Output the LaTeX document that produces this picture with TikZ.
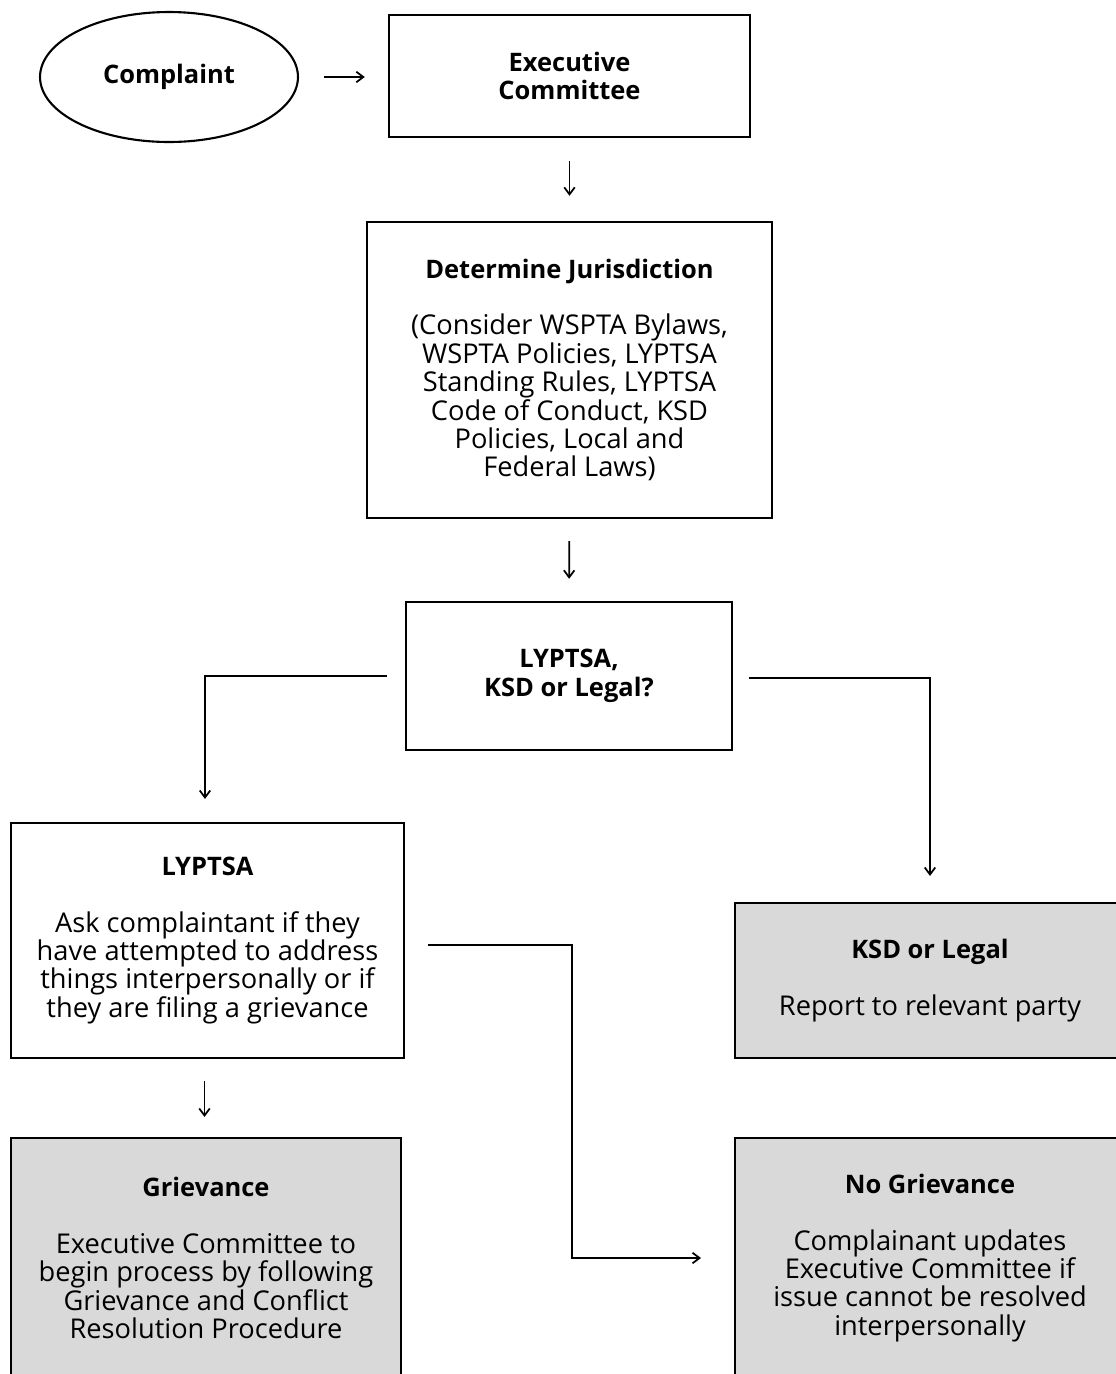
\documentclass[tikz,border=0pt]{standalone}
\usepackage{fontspec}
\setmainfont{Open Sans}
\usetikzlibrary{shapes.geometric,arrows.meta}
\definecolor{boxgray}{RGB}{217,217,217}
\newcommand\boxtitle[1]{{\fontsize{14.5}{16.2}\selectfont\bfseries #1}}
\begin{document}
\begin{tikzpicture}[
    x=0.02cm, y=-0.02cm,
    every node/.style={font=\fontsize{15.5}{16.2}\selectfont},
    stepbox/.style={draw, line width=1.4pt, align=center, inner sep=0},
    endbox/.style={stepbox, fill=boxgray, line width=1.2pt},
    oval/.style={draw, ellipse, line width=1.2pt, inner sep=0, minimum width=5.16cm, minimum height=2.6cm},
    arrow/.style={-{Straight Barb[length=4pt, width=6pt]}, line width=1pt}
  ]
  \useasboundingbox (0,0) rectangle (1116,1374);

  \node[oval] (complaint) at (169,77) {\boxtitle{Complaint}};
  \node[stepbox, minimum width=7.22cm, minimum height=2.44cm] (exec) at (569.5,76)
    {\boxtitle{Executive}\\\boxtitle{Committee}};
  \node[stepbox, minimum width=8.1cm, minimum height=5.92cm] (jurisdiction) at (569.5,370)
    {\boxtitle{Determine Jurisdiction}\\[16pt]
     (Consider WSPTA Bylaws,\\ WSPTA Policies, LYPTSA\\ Standing Rules, LYPTSA\\
     Code of Conduct, KSD\\ Policies, Local and\\ Federal Laws)};
  \node[stepbox, minimum width=6.52cm, minimum height=2.96cm] (decide) at (569,676)
    {\boxtitle{LYPTSA,}\\\boxtitle{KSD or Legal?}};
  \node[stepbox, line width=1.2pt, minimum width=7.86cm, minimum height=4.7cm] (lyptsa) at (207.5,940.5)
    {\boxtitle{LYPTSA}\\[16pt]
     Ask complaintant if they\\ have attempted to address\\
     things interpersonally or if\\ they are filing a grievance};
  \node[endbox, minimum width=7.8cm, minimum height=3.1cm] (ksd) at (930,980.5)
    {\boxtitle{KSD or Legal}\\[16pt] Report to relevant party};
  \node[endbox, minimum width=7.8cm, minimum height=4.8cm] (grievance) at (206,1258)
    {\boxtitle{Grievance}\\[16pt]
     Executive Committee to\\ begin process by following\\
     Grievance and Conflict\\ Resolution Procedure};
  \node[endbox, minimum width=7.8cm, minimum height=4.8cm] (nogrievance) at (930,1258)
    {\boxtitle{No Grievance}\\[16pt]
     Complainant updates\\ Executive Committee if\\
     issue cannot be resolved\\ interpersonally};

  \draw[arrow, shorten <=0.5cm, shorten >=0.46cm] (complaint.east) -- (exec.west |- complaint.east);
  \draw[arrow, shorten <=0.46cm, shorten >=0.5cm] (exec.south) -- (jurisdiction.north);
  \draw[arrow, shorten <=0.44cm, shorten >=0.44cm] (jurisdiction.south) -- (decide.north);
  \draw[arrow] ([xshift=-0.36cm]decide.west) -| ([xshift=-0.05cm, yshift=0.46cm]lyptsa.north);
  \draw[arrow] ([xshift=0.32cm, yshift=-0.04cm]decide.east) -| ([yshift=0.52cm]ksd.north);
  \draw[arrow, shorten <=0.44cm, shorten >=0.4cm] ([xshift=-0.06cm]lyptsa.south) -- ([xshift=-0.06cm]lyptsa.south |- grievance.north);
  \draw[arrow] ([xshift=0.46cm, yshift=-0.09cm]lyptsa.east) -- ++(144,0) |- ([xshift=-0.66cm]nogrievance.west);
\end{tikzpicture}
\end{document}
